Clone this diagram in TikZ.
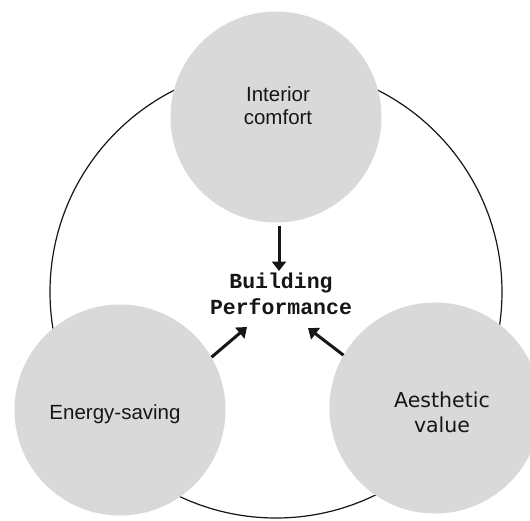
\documentclass[tikz,border=0pt]{standalone}
\usepackage{fontspec}
\setmainfont{Liberation Sans}
\newfontfamily\dejavu{DejaVu Sans}
\newfontfamily\slabmono{Liberation Mono}
\usetikzlibrary{arrows.meta}
\definecolor{discgray}{RGB}{217,217,217}
\definecolor{inkblack}{RGB}{22,22,22}
\begin{document}
\begin{tikzpicture}[x=1pt,y=-1pt,
  disc/.style={circle,fill=discgray,draw=none,inner sep=0pt,minimum size=211pt},
  ring/.style={circle,draw=inkblack,line width=1.2pt,inner sep=0pt,minimum size=452pt},
  lbl/.style={text=inkblack,align=center,inner sep=0pt,anchor=base},
  arr/.style={draw=inkblack,line width=3pt,-{Triangle[length=9.5pt,width=14pt]}}]
\useasboundingbox (0,0) rectangle (530,520);
\fill[white] (0,0) rectangle (530,520);

% outer ring behind the three discs
\node[ring] (outer) at (276,292) {};

% the three factor discs
\node[disc] (ic) at (276,117) {};
\node[disc] (es) at (120,410) {};
\node[disc] (av) at (435,408) {};

% labels (base anchor sits on the last line)
\node[lbl,font=\fontsize{20.5}{23}\selectfont] (ict) at (278,124) {Interior\\comfort};
\node[lbl,font=\fontsize{20.5}{24}\selectfont] (est) at (115,419) {Energy-saving};
\node[lbl,font=\dejavu\fontsize{20.5}{25}\selectfont] (avt) at (442,432) {Aesthetic\\value};
\node[lbl,font=\slabmono\bfseries\fontsize{21.5}{26}\selectfont] (bp) at (281,314) {Building\\Performance};

% arrow tips around the centre label
\coordinate (tipT) at (279,271);
\coordinate (tipL) at (247,327);
\coordinate (tipR) at (308,328);

\draw[arr,shorten <=3pt] (ic.south -| tipT) -- (tipT);
\draw[arr] (es.30) -- (tipL);
\draw[arr] (av.150) -- (tipR);
\end{tikzpicture}
\end{document}
